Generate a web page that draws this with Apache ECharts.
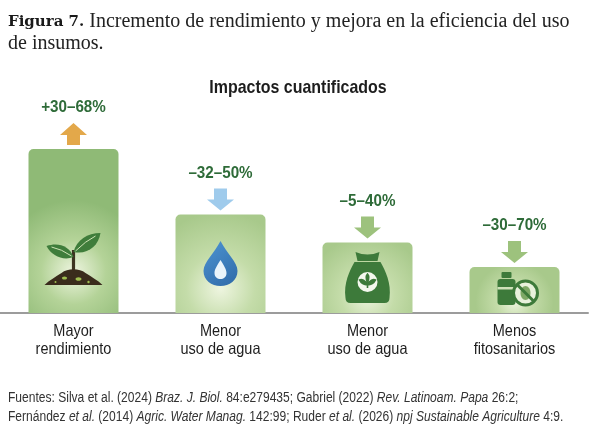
<!DOCTYPE html>
<html>
<head>
<meta charset="utf-8">
<style>
  html, body { margin: 0; padding: 0; background: #fff; }
  #chart { width: 600px; height: 435px; }
</style>
<script src="https://cdn.jsdelivr.net/npm/echarts@6/dist/echarts.min.js"></script>
</head>
<body>
<div id="chart"></div>
<script>
// datos del gráfico
const categories = ['Mayor\nrendimiento', 'Menor\nuso de agua', 'Menor\nuso de agua', 'Menos\nfitosanitarios'];
const barHeights = [100, 60, 43, 28];
const rangeLabels = ['+30–68%', '–32–50%', '–5–40%', '–30–70%'];
const directions = ['up', 'down', 'down', 'down'];
const iconNames = ['plant', 'drop', 'bag', 'bottle'];

const sans = '"Liberation Sans", Arial, sans-serif';
const arrowColors = { up: '#e3a84a', drop: '#9fcbec', down: '#9dc27d' };

function barColor(i) {
  const edge = i === 0 ? '#8fba76' : '#a8c98b';
  const mid = i === 0 ? '#b4d398' : '#c4dca9';
  return {
    type: 'radial', x: 0.5, y: 0.75, r: i === 0 ? 0.8 : 0.85,
    colorStops: [
      { offset: 0, color: '#eef5e0' },
      { offset: 0.45, color: mid },
      { offset: 1, color: edge }
    ]
  };
}

function iconShapes(name) {
  const dark = '#3d7a3a';
  if (name === 'plant') {
    return [
      { type: 'rect', shape: { x: -1.6, y: -63, width: 3.2, height: 24 }, style: { fill: '#3c3420' } },
      { type: 'path', shape: { pathData: 'M 0 -56 C -4 -67 -15 -71 -27 -67 C -22 -57 -10 -52 0 -56 Z' }, style: { fill: '#3f7d3b' } },
      { type: 'path', shape: { pathData: 'M 0 -61 C 3 -73 14 -80 27 -80 C 25 -67 14 -58 0 -61 Z' }, style: { fill: '#3f7d3b' } },
      { type: 'path', shape: { pathData: 'M -2 -57 Q -12 -64 -22 -66' }, style: { stroke: '#cfe4b6', lineWidth: 1, fill: null } },
      { type: 'path', shape: { pathData: 'M 2 -62 Q 12 -72 22 -77' }, style: { stroke: '#cfe4b6', lineWidth: 1, fill: null } },
      { type: 'path', shape: { pathData: 'M -29 -28 C -24 -33 -18 -36 -12 -40 C -6 -45 6 -45 12 -40 C 18 -36 24 -33 29 -28 Z' }, style: { fill: '#3a2c1c' } },
      { type: 'ellipse', shape: { cx: -9, cy: -35, rx: 2.6, ry: 1.6 }, style: { fill: '#9fbd4f' } },
      { type: 'ellipse', shape: { cx: 5, cy: -34, rx: 3, ry: 1.8 }, style: { fill: '#9fbd4f' } },
      { type: 'circle', shape: { cx: 15, cy: -31, r: 1.2 }, style: { fill: '#9fbd4f' } },
      { type: 'circle', shape: { cx: -18, cy: -31, r: 1 }, style: { fill: '#9fbd4f' } }
    ];
  }
  if (name === 'drop') {
    return [
      { type: 'path', shape: { pathData: 'M 0 -72 C 6 -60 17 -51 17 -42 C 17 -33 9 -27 0 -27 C -9 -27 -17 -33 -17 -42 C -17 -51 -6 -60 0 -72 Z' },
        style: { fill: { type: 'linear', x: 0, y: 0, x2: 1, y2: 1, colorStops: [{ offset: 0, color: '#4d94d2' }, { offset: 1, color: '#2f6aa8' }] } } },
      { type: 'path', shape: { pathData: 'M 0 -53 C 3 -48 6 -44 6 -40 C 6 -36 3 -34 0 -34 C -3 -34 -6 -36 -6 -40 C -6 -44 -3 -48 0 -53 Z' }, style: { fill: '#eaf4fb' } }
    ];
  }
  if (name === 'bag') {
    return [
      { type: 'path', shape: { pathData: 'M -12 -61 Q 0 -56 12 -61 L 10 -52 L -10 -52 Z' }, style: { fill: dark } },
      { type: 'path', shape: { pathData: 'M -13 -51 L 13 -51 C 18 -42 24 -30 22 -15 Q 22 -10 17 -10 L -17 -10 Q -22 -10 -22 -15 C -24 -30 -18 -42 -13 -51 Z' }, style: { fill: dark } },
      { type: 'circle', shape: { cx: 0, cy: -31, r: 10 }, style: { fill: '#f4f8ee' } },
      { type: 'path', shape: { pathData: 'M 0 -25 L 0 -33 M 0 -28 C -2 -33 -6 -34 -8 -33 C -6 -29 -3 -28 0 -28 M 0 -28 C 2 -33 6 -34 8 -33 C 6 -29 3 -28 0 -28 M 0 -31 C -2 -35 -1 -38 0 -39 C 1 -38 2 -35 0 -31' },
        style: { stroke: dark, lineWidth: 1.6, fill: dark } }
    ];
  }
  return [
    { type: 'rect', shape: { x: -13, y: -41, width: 10, height: 6, r: 1 }, style: { fill: dark } },
    { type: 'rect', shape: { x: -17, y: -34, width: 18, height: 26, r: 3 }, style: { fill: dark } },
    { type: 'rect', shape: { x: -17, y: -26, width: 18, height: 2.5 }, style: { fill: '#cfe1b9' } },
    { type: 'circle', shape: { cx: 11, cy: -20, r: 12 }, style: { fill: '#e8f1dc', stroke: dark, lineWidth: 3 } },
    { type: 'ellipse', shape: { cx: 11, cy: -20, rx: 5, ry: 7 }, style: { fill: '#7ea866' } },
    { type: 'line', shape: { x1: 3, y1: -28, x2: 19, y2: -12 }, style: { stroke: dark, lineWidth: 3 } }
  ];
}

const chart = echarts.init(document.getElementById('chart'));

chart.setOption({
  backgroundColor: '#ffffff',
  animation: false,
  title: {
    left: 8, top: 11, padding: 0,
    text: '{b|Figura 7.} Incremento de rendimiento y mejora en la eficiencia del uso\nde insumos.',
    textStyle: {
      fontFamily: '"Liberation Serif", serif', fontSize: 20, fontWeight: 'normal',
      color: '#222', lineHeight: 22,
      rich: { b: { fontFamily: '"DejaVu Serif", serif', fontWeight: 'bold', fontSize: 15, color: '#1a1a1a', lineHeight: 22 } }
    }
  },
  // textos condensados (título del panel y fuentes)
  graphic: [
    {
      type: 'text', x: 298, y: 88, scaleX: 0.84,
      style: { text: 'Impactos cuantificados', align: 'center', verticalAlign: 'middle', font: 'bold 19px ' + sans, fill: '#1d1d1d' }
    },
    {
      type: 'text', x: 8, y: 389, scaleX: 0.86,
      style: {
        text: 'Fuentes: Silva et al. (2024) {i|Braz. J. Biol.} 84:e279435; Gabriel (2022) {i|Rev. Latinoam. Papa} 26:2;\n' +
              'Fernández {i|et al.} (2014) {i|Agric. Water Manag.} 142:99; Ruder {i|et al.} (2026) {i|npj Sustainable Agriculture} 4:9.',
        font: '14px ' + sans, fill: '#333', lineHeight: 19,
        rich: { i: { fontStyle: 'italic', fontFamily: sans, fontSize: 14, fill: '#333', lineHeight: 19 } }
      }
    }
  ],
  grid: { left: 0, right: 12, top: 149, bottom: 122 },
  xAxis: {
    type: 'category',
    data: categories,
    axisLine: { lineStyle: { color: '#9c9c9c', width: 2 } },
    axisTick: { show: false },
    axisLabel: { show: false }
  },
  yAxis: { type: 'value', min: 0, max: 100, show: false, splitLine: { show: false } },
  series: [
    {
      type: 'bar',
      barWidth: 90,
      data: barHeights.map((v, i) => ({ value: v, itemStyle: { color: barColor(i), borderRadius: [5, 5, 0, 0] } })),
      z: 2
    },
    {
      type: 'custom',
      z: 3,
      data: barHeights.map((v, i) => [i, v]),
      renderItem: function (params, api) {
        const i = params.dataIndex;
        const top = api.coord([api.value(0), api.value(1)]);
        const up = directions[i] === 'up';
        const color = up ? arrowColors.up : (iconNames[i] === 'drop' ? arrowColors.drop : arrowColors.down);
        const pts = up
          ? [[-6.5, 0], [6.5, 0], [6.5, -10], [13.5, -10], [0, -22], [-13.5, -10], [-6.5, -10]]
          : [[-6.5, -22], [6.5, -22], [6.5, -11], [13.5, -11], [0, 0], [-13.5, -11], [-6.5, -11]];
        return {
          type: 'group',
          x: top[0], y: top[1] - 4,
          children: [
            { type: 'polygon', shape: { points: pts }, style: { fill: color } },
            {
              type: 'text', x: 0, y: -29, scaleX: 0.95,
              style: {
                text: rangeLabels[i], align: 'center', verticalAlign: 'bottom',
                fill: '#2e6b38', font: 'bold 16px ' + sans
              }
            }
          ]
        };
      }
    },
    {
      type: 'custom',
      z: 4,
      data: barHeights.map((v, i) => [i, 0]),
      renderItem: function (params, api) {
        const i = params.dataIndex;
        const base = api.coord([api.value(0), 0]);
        const shapes = iconShapes(iconNames[i]).concat([{
          type: 'text', x: 0, y: 9, scaleX: 0.88,
          style: { text: categories[i], align: 'center', verticalAlign: 'top', font: '16.5px ' + sans, lineHeight: 18, fill: '#1e1e1e' }
        }]);
        return { type: 'group', x: base[0], y: base[1], children: shapes };
      }
    }
  ]
});
</script>
</body>
</html>
